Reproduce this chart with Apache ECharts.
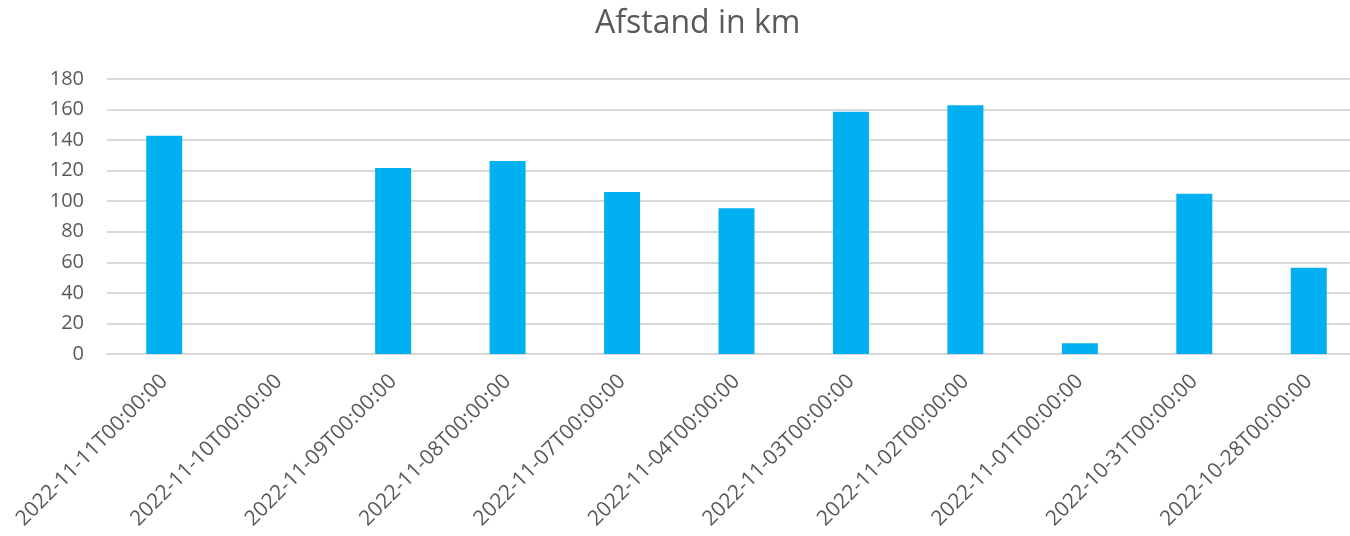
<!DOCTYPE html>
<html>
<head>
<meta charset="utf-8">
<script src="https://cdn.jsdelivr.net/npm/echarts@6/dist/echarts.min.js"></script>
<style>
  html, body { margin: 0; padding: 0; background: #fff; }
  #afstand { width: 1350px; height: 536px; }
</style>
</head>
<body>
<div id="afstand"></div>
<script>
  var categories = ['2022-11-11T00:00:00', '2022-11-10T00:00:00', '2022-11-09T00:00:00', '2022-11-08T00:00:00',
    '2022-11-07T00:00:00', '2022-11-04T00:00:00', '2022-11-03T00:00:00', '2022-11-02T00:00:00',
    '2022-11-01T00:00:00', '2022-10-31T00:00:00', '2022-10-28T00:00:00']
  var afstand = [142.8, 0, 121.7, 126.3, 106.0, 95.4, 158.6, 162.8, 7.0, 104.9, 56.4]
  var yTicks = [0, 20, 40, 60, 80, 100, 120, 140, 160, 180]

  var chart = echarts.init(document.getElementById('afstand'))
  var textColor = '#595959'
  chart.setOption({
      animation: false,
      textStyle: { fontFamily: 'Open Sans' },
      title: {
          text: 'Afstand in km',
          left: 590,
          top: 3,
          textStyle: { fontSize: 32, fontWeight: 'normal', color: textColor, fontFamily: 'Open Sans' }
      },
      // plot runs a bit past the right edge, as in the cropped original
      grid: { left: 107, width: 1259, top: 79, bottom: 182, outerBoundsMode: 'none' },
      xAxis: {
          type: 'category',
          data: categories,
          axisLine: { lineStyle: { color: '#d9d9d9', width: 2 } },
          axisTick: { show: false },
          axisLabel: { rotate: 45, margin: 24, fontSize: 21, color: textColor, interval: 0 }
      },
      yAxis: {
          type: 'value',
          min: yTicks[0],
          max: yTicks[yTicks.length - 1],
          interval: 20,
          axisLine: { show: false },
          axisTick: { show: false },
          axisLabel: { margin: 23, fontSize: 20, color: textColor },
          splitLine: { lineStyle: { color: '#d9d9d9', width: 2 } }
      },
      series: [{
          name: 'Afstand in km',
          type: 'bar',
          data: afstand,
          barWidth: 36,
          itemStyle: { color: '#00b0f0' }
      }]
  })
</script>
</body>
</html>
